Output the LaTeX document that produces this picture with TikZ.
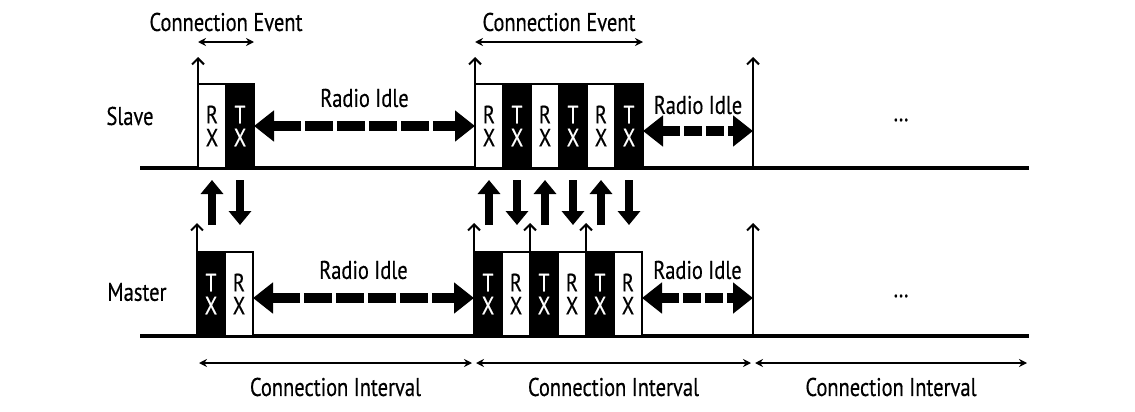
\documentclass[tikz,border=0pt]{standalone}
\usepackage{fontspec}
\setmainfont[FakeStretch=0.8,FakeBold=0.4]{PT Sans}
\usepackage{tikz}
\usetikzlibrary{arrows.meta}
\usetikzlibrary{positioning}

\begin{document}
\begin{tikzpicture}[x=0.5pt,y=-0.5pt,
  font=\fontsize{12.8}{13}\selectfont,
  axis/.style={line width=1.6pt},
  evtarrow/.style={line width=1pt,-{Straight Barb[length=3pt,width=6pt]}},
  span/.style={line width=0.9pt,{Stealth[length=4pt,width=4pt]}-{Stealth[length=4pt,width=4pt]}},
  idle/.style={line width=5pt,{Triangle[length=10pt,width=15pt]}-{Triangle[length=10pt,width=15pt]}},
  blockarrow/.style={line width=4pt,-{Triangle[length=7pt,width=11pt]}},
  rx/.style={slot,fill=white,text=black},
  tx/.style={slot,fill=black,text=white}]
      \tikzstyle{slot}=[draw=black,line width=1pt,rectangle,minimum width=14pt,minimum height=42pt,inner sep=0pt,outer sep=0pt,align=center,font=\fontsize{12.5}{11.5}\selectfont]

     \useasboundingbox (0,0) rectangle (1135,412);

     % time lines
     \coordinate (sl0) at (140,168);
     \coordinate (sl1) at (1029,168);
     \coordinate (ml0) at (140,336);
     \coordinate (ml1) at (1029,336);
     \coordinate (s3) at (753,168);
     \coordinate (m3) at (753,336);
     \draw[axis] (sl0) -- (sl1);
     \draw[axis] (ml0) -- (ml1);

     \node (slave) at (130,116) {Slave};
     \node (master) at (137,292) {Master};
     \node (sdots) at (901,120) {\dots};
     \node (mdots) at (901,296) {\dots};

     % slave
     \node [rx,anchor=south west] (s1a) at (198,168) {R\\X};
     \node [tx,right=0pt of s1a] (s1b) {T\\X};

     \node [rx,anchor=south west] (s2a) at (475,168) {R\\X};
     \node [tx,right=0pt of s2a] (s2b) {T\\X};
     \node [rx,right=0pt of s2b] (s2c) {R\\X};
     \node [tx,right=0pt of s2c] (s2d) {T\\X};
     \node [rx,right=0pt of s2d] (s2e) {R\\X};
     \node [tx,right=0pt of s2e] (s2f) {T\\X};

     % master
     \node [tx,anchor=south west] (m1a) at (197,336) {T\\X};
     \node [rx,right=0pt of m1a] (m1b) {R\\X};

     \node [tx,anchor=south west] (m2a) at (474,336) {T\\X};
     \node [rx,right=0pt of m2a] (m2b) {R\\X};
     \node [tx,right=0pt of m2b] (m2c) {T\\X};
     \node [rx,right=0pt of m2c] (m2d) {R\\X};
     \node [tx,right=0pt of m2d] (m2e) {T\\X};
     \node [rx,right=0pt of m2e] (m2f) {R\\X};

     % event markers
     \coordinate [above=13.5pt of s1a.north west] (s1up);
     \coordinate [above=13.5pt of s2a.north west] (s2up);
     \coordinate [above=55.5pt of s3] (s3up);
     \coordinate [above=14.5pt of m1a.north west] (m1up);
     \coordinate [above=14.5pt of m2a.north west] (m2up);
     \coordinate [above=14.5pt of m2c.north west] (m2cup);
     \coordinate [above=14.5pt of m2e.north west] (m2eup);
     \coordinate [above=56.5pt of m3] (m3up);

     \path
	(s1a.south west) edge[evtarrow] (s1up)
	(s2a.south west) edge[evtarrow] (s2up)
	(s3) edge[evtarrow] (s3up)
	(m1a.south west) edge[evtarrow] (m1up)
	(m2a.south west) edge[evtarrow] (m2up)
	(m2c.north west) edge[evtarrow] (m2cup)
	(m2e.north west) edge[evtarrow] (m2eup)
	(m3) edge[evtarrow] (m3up);

     % radio idle
     \draw[idle,dash pattern=on 14pt off 2pt] (s1b.east) -- (s2a.west)
	node[midway,yshift=14pt]{Radio Idle};
     \draw[idle,dash pattern=on 9pt off 2pt] ([yshift=-2.5pt]s2f.east) -- ([yshift=-2.5pt]s2f.east -| s3)
	node[midway,yshift=13pt]{Radio Idle};
     \draw[idle,dash pattern=on 14pt off 2pt] ([yshift=-2pt]m1b.east) -- ([yshift=-2pt]m2a.west)
	node[midway,yshift=14pt]{Radio Idle};
     \draw[idle,dash pattern=on 9pt off 2pt] ([yshift=-2pt]m2f.east) -- ([yshift=-2pt]m2f.east -| m3)
	node[midway,yshift=14pt]{Radio Idle};

     % packets
     \path
	(s1a.south |- m1a.north) edge[blockarrow,shorten <=13.5pt,shorten >=6pt] (s1a.south)
	(s1b.south) edge[blockarrow,shorten <=6pt,shorten >=13.5pt] (s1b.south |- m1b.north)
	(s2a.south |- m2a.north) edge[blockarrow,shorten <=13.5pt,shorten >=6pt] (s2a.south)
	(s2b.south) edge[blockarrow,shorten <=6pt,shorten >=13.5pt] (s2b.south |- m2b.north)
	(s2c.south |- m2c.north) edge[blockarrow,shorten <=13.5pt,shorten >=6pt] (s2c.south)
	(s2d.south) edge[blockarrow,shorten <=6pt,shorten >=13.5pt] (s2d.south |- m2d.north)
	(s2e.south |- m2e.north) edge[blockarrow,shorten <=13.5pt,shorten >=6pt] (s2e.south)
	(s2f.south) edge[blockarrow,shorten <=6pt,shorten >=13.5pt] (s2f.south |- m2f.north);

     % connection event
     \coordinate [above=21pt of s1a.north west] (ce1a);
     \coordinate [above=21pt of s1b.north east] (ce1b);
     \coordinate [above=21pt of s2a.north west] (ce2a);
     \coordinate [above=21pt of s2f.north east] (ce2b);
     \draw[span] (ce1a) -- (ce1b) node[midway,yshift=10pt]{Connection Event};
     \draw[span] (ce2a) -- (ce2b) node[midway,yshift=10pt]{Connection Event};

     % connection interval
     \coordinate [below=13.5pt of m1a.south west] (ci0);
     \coordinate [below=13.5pt of m2a.south west] (ci1);
     \coordinate [below=13.5pt of m3] (ci2);
     \coordinate [below=13.5pt of ml1] (ci3);
     \draw[span,shorten <=1pt,shorten >=1pt] (ci0) -- (ci1) node[midway,yshift=-12pt]{Connection Interval};
     \draw[span,shorten <=1pt,shorten >=1pt] (ci1) -- (ci2) node[midway,yshift=-12pt]{Connection Interval};
     \draw[span,shorten <=1pt,shorten >=1pt] (ci2) -- (ci3) node[midway,yshift=-12pt]{Connection Interval};

  \end{tikzpicture}
\end{document}
